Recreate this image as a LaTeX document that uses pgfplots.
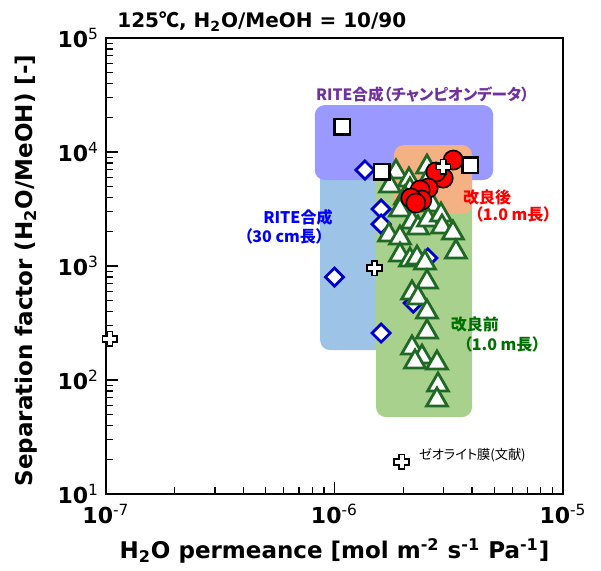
\documentclass[border=0pt]{standalone}
\usepackage{fontspec}
\setmainfont{DejaVu Sans}
\newfontfamily\jp[RawFeature=+palt]{Noto Sans CJK JP}
\usepackage{pgfplots}
\pgfplotsset{compat=1.18}

\definecolor{boxPurple}{RGB}{153,153,255}
\definecolor{boxBlue}{RGB}{157,195,230}
\definecolor{boxGreen}{RGB}{169,209,142}
\definecolor{boxOrange}{RGB}{244,177,131}
\definecolor{triGreen}{RGB}{30,105,35}
\definecolor{txtPurple}{RGB}{112,48,160}
\definecolor{txtGreen}{RGB}{0,112,0}
\definecolor{dia}{RGB}{0,0,204}

% thick outlined plus sign
\pgfdeclareplotmark{fatplus}{%
  \pgfmathsetlengthmacro{\a}{\pgfplotmarksize}%
  \pgfmathsetlengthmacro{\b}{0.36*\pgfplotmarksize}%
  \pgfpathmoveto{\pgfqpoint{-\b}{\a}}%
  \pgfpathlineto{\pgfqpoint{\b}{\a}}%
  \pgfpathlineto{\pgfqpoint{\b}{\b}}%
  \pgfpathlineto{\pgfqpoint{\a}{\b}}%
  \pgfpathlineto{\pgfqpoint{\a}{-\b}}%
  \pgfpathlineto{\pgfqpoint{\b}{-\b}}%
  \pgfpathlineto{\pgfqpoint{\b}{-\a}}%
  \pgfpathlineto{\pgfqpoint{-\b}{-\a}}%
  \pgfpathlineto{\pgfqpoint{-\b}{-\b}}%
  \pgfpathlineto{\pgfqpoint{-\a}{-\b}}%
  \pgfpathlineto{\pgfqpoint{-\a}{\b}}%
  \pgfpathlineto{\pgfqpoint{-\b}{\b}}%
  \pgfpathclose
  \pgfusepathqfillstroke}

\begin{document}
\begin{tikzpicture}
\useasboundingbox (-53pt,-38pt) rectangle (247.5pt,247pt);
\begin{axis}[
  at={(0,0)}, anchor=south west,
  scale only axis, width=228.5pt, height=228pt,
  xmode=log, ymode=log,
  xmin=1e-7, xmax=1e-5, ymin=10, ymax=1e5,
  clip=false,
  axis line style={line width=1pt},
  tick align=inside, xtick pos=bottom, ytick pos=left,
  major tick length=6pt, minor tick length=3.5pt,
  every tick/.style={black, line width=0.6pt},
  xtick={1e-7,1e-6,1e-5},
  xticklabels={\textbf{10}\textsuperscript{-7},\textbf{10}\textsuperscript{-6},\textbf{10}\textsuperscript{-5}},
  minor xtick={2e-7,3e-7,4e-7,5e-7,6e-7,7e-7,8e-7,9e-7,2e-6,3e-6,4e-6,5e-6,6e-6,7e-6,8e-6,9e-6},
  ytick={10,100,1000,10000,100000},
  yticklabels={\textbf{10}\textsuperscript{1},\textbf{10}\textsuperscript{2},\textbf{10}\textsuperscript{3},\textbf{10}\textsuperscript{4},\textbf{10}\textsuperscript{5}},
  minor ytick={20,30,40,50,60,70,80,90,200,300,400,500,600,700,800,900,2000,3000,4000,5000,6000,7000,8000,9000,20000,30000,40000,50000,60000,70000,80000,90000},
  tick label style={font=\fontsize{11}{13}\selectfont},
  xticklabel style={yshift=-1.5pt},
  xlabel={\textbf{H\textsubscript{2}O permeance [mol m\textsuperscript{-2} s\textsuperscript{-1} Pa\textsuperscript{-1}]}},
  ylabel={\textbf{Separation factor (H\textsubscript{2}O/MeOH) [-]}},
  label style={font=\fontsize{11.5}{13}\selectfont},
  xlabel style={at={(axis description cs:0.5,-0.125)}, anchor=center},
  ylabel style={at={(axis description cs:-0.175,0.49)}, anchor=center},
]
% shaded regions
\addplot[draw=none, fill=boxBlue, rounded corners=5pt] coordinates {(8.65e-7,183) (1.75e-6,183) (1.75e-6,8000) (8.65e-7,8000)} -- cycle;
\addplot[draw=none, fill=boxGreen, rounded corners=5pt] coordinates {(1.52e-6,47.3) (4.0e-6,47.3) (4.0e-6,8000) (1.52e-6,8000)} -- cycle;
\addplot[draw=none, fill=boxPurple, rounded corners=5pt] coordinates {(8.2e-7,5680) (4.95e-6,5680) (4.95e-6,25800) (8.2e-7,25800)} -- cycle;
\addplot[draw=none, fill=boxOrange, rounded corners=5pt] coordinates {(1.82e-6,2860) (4.0e-6,2860) (4.0e-6,11500) (1.82e-6,11500)} -- cycle;

% RITE 30 cm
\addplot[only marks, mark=square*, mark size=3.2pt, mark options={rotate=45, draw=dia, fill=white, line width=1.4pt}]
  coordinates {(1.36e-6,6950) (1.60e-6,3160) (1.60e-6,2330) (1.00e-6,800) (2.56e-6,1175) (2.21e-6,473) (1.60e-6,258)};

% before improvement
\addplot[only marks, mark=triangle*, mark size=6pt, mark options={draw=triGreen, fill=white, line width=1.4pt}]
  coordinates {
  (1.858e-6,6676) (1.749e-6,5032) (2.118e-6,5680) (2.540e-6,7385) (2.592e-6,5914)
  (2.140e-6,4642) (2.034e-6,3949) (2.671e-6,3429) (1.935e-6,3099) (2.184e-6,2432)
  (2.320e-6,2154) (2.566e-6,2532) (2.925e-6,2802) (2.955e-6,2199) (3.30e-6,1948)
  (1.732e-6,1870) (1.935e-6,1761) (3.40e-6,1327) (1.935e-6,1249) (2.140e-6,1129)
  (2.297e-6,1175) (2.489e-6,1062) (2.540e-6,724) (2.184e-6,580) (2.320e-6,524)
  (2.540e-6,395) (2.540e-6,264) (2.184e-6,191) (2.415e-6,159) (2.251e-6,144)
  (2.809e-6,141) (2.838e-6,90.4) (2.809e-6,66.8)};

% after improvement
\addplot[only marks, mark=*, mark size=4.8pt, mark options={draw=black, fill=red, line width=0.8pt}]
  coordinates {(3.31e-6,8500) (2.99e-6,5900) (2.78e-6,6680) (2.57e-6,4830) (2.37e-6,4640) (2.41e-6,3790) (2.16e-6,3950) (2.27e-6,3570)};

% RITE champion data
\addplot[only marks, mark=square*, mark size=3.9pt, mark options={draw=black, fill=white, line width=1.3pt}]
  coordinates {(1.08e-6,16600) (1.61e-6,6680) (3.92e-6,7690)};

% zeolite membranes (literature)
\addplot[only marks, mark=fatplus, mark size=3.7pt, mark options={draw=black, fill=white, line width=0.9pt}]
  coordinates {(1.04e-7,229) (1.50e-6,960) (2.99e-6,7400) (1.97e-6,19.1)};

% annotations
\node[anchor=base west, inner sep=0pt, font=\fontsize{10}{12}\selectfont\bfseries] at (rel axis cs:0.024,1.022) {125{\jp ℃}, H\textsubscript{2}O/MeOH = 10/90};
\node[anchor=west, inner sep=0pt, text=txtPurple, font=\jp\fontsize{7.8}{9}\selectfont\bfseries] at (rel axis cs:0.459,0.875) {RITE合成（チャンピオンデータ）};
\node[text=blue, font=\jp\fontsize{8}{9}\selectfont\bfseries] at (rel axis cs:0.420,0.607) {RITE合成};
\node[text=blue, font=\jp\fontsize{8}{9}\selectfont\bfseries] at (rel axis cs:0.390,0.564) {（30 cm長）};
\node[text=red, font=\jp\fontsize{8}{9}\selectfont\bfseries] at (rel axis cs:0.834,0.651) {改良後};
\node[text=red, font=\jp\fontsize{8}{9}\selectfont\bfseries] at (rel axis cs:0.891,0.614) {（1.0 m長）};
\node[text=txtGreen, font=\jp\fontsize{8}{9}\selectfont\bfseries] at (rel axis cs:0.807,0.371) {改良前};
\node[text=txtGreen, font=\jp\fontsize{8}{9}\selectfont\bfseries] at (rel axis cs:0.867,0.327) {（1.0 m長）};
\node[anchor=west, inner sep=0pt, font=\jp\fontsize{6.6}{8}\selectfont] at (rel axis cs:0.684,0.0855) {ゼオライト膜(文献)};
\end{axis}
\end{tikzpicture}
\end{document}
